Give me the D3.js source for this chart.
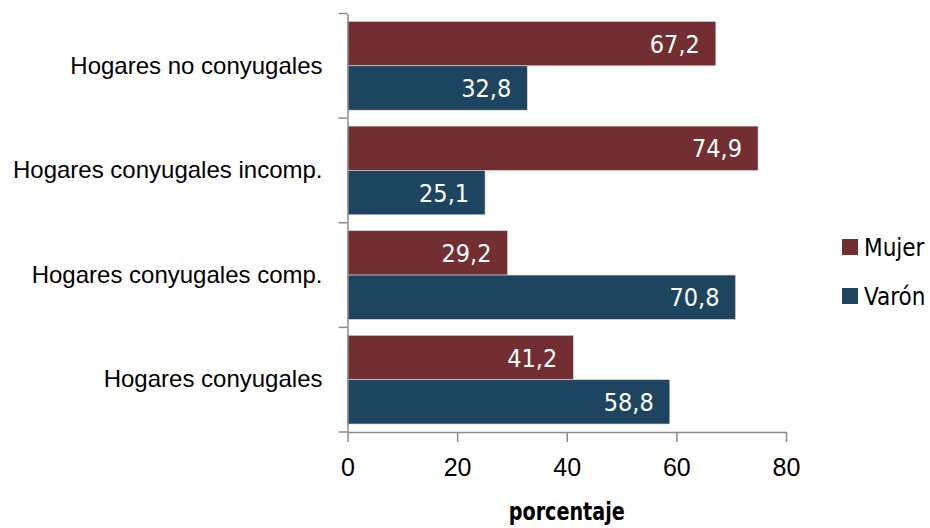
<!DOCTYPE html>
<html>
  <head>
    <meta charset="UTF-8" />
    <title>Hogares por sexo del jefe</title>
    <style>
      body { margin: 0; background: #fff; }
      svg { display: block; font-family: 'DejaVu Sans Condensed', 'DejaVu Sans', sans-serif; }
    </style>
  </head>
  <body>
    <svg width="930" height="528"></svg>
    <script src="https://cdn.jsdelivr.net/npm/d3@7/dist/d3.min.js"></script>
    <script>
      const categories = [
        'Hogares no conyugales',
        'Hogares conyugales incomp.',
        'Hogares conyugales comp.',
        'Hogares conyugales',
      ];
      const series = ['Mujer', 'Varón'];
      const mujer = [67.2, 74.9, 29.2, 41.2];
      const varon = [32.8, 25.1, 70.8, 58.8];
      const xTicks = [0, 20, 40, 60, 80];
      const xLabel = 'porcentaje';

      const colors = { Mujer: '#722e30', Varón: '#1e4560' };

      const svg = d3.select('svg');
      const margin = { top: 13.5, left: 347.5, right: 144, bottom: 96 };
      const width = +svg.attr('width');
      const height = +svg.attr('height');
      const innerHeight = height - margin.top - margin.bottom;

      const xScale = d3.scaleLinear().domain([0, 80]).range([0, 438.5]);
      const yScale = d3.scaleBand().domain(categories).range([0, innerHeight]);
      const subScale = d3
        .scaleBand()
        .domain(series)
        .range([0, yScale.bandwidth()])
        .paddingOuter(0.18)
        .paddingInner(0);

      const g = svg
        .append('g')
        .attr('transform', `translate(${margin.left},${margin.top})`);

      const rows = categories.map((c, i) => ({
        cat: c,
        vals: [
          { key: 'Mujer', v: mujer[i] },
          { key: 'Varón', v: varon[i] },
        ],
      }));

      const rowG = g
        .selectAll('.row')
        .data(rows)
        .enter()
        .append('g')
        .attr('transform', (d) => `translate(0,${yScale(d.cat)})`);

      rowG
        .selectAll('rect')
        .data((d) => d.vals)
        .enter()
        .append('rect')
        .attr('x', 0)
        .attr('y', (d) => subScale(d.key))
        .attr('width', (d) => xScale(d.v))
        .attr('height', subScale.bandwidth())
        .attr('fill', (d) => colors[d.key])
        .attr('stroke', '#d9d9d9')
        .attr('stroke-width', 0.6);

      rowG
        .selectAll('.val')
        .data((d) => d.vals)
        .enter()
        .append('text')
        .attr('class', 'val')
        .attr('x', (d) => xScale(d.v) - 16)
        .attr('y', (d) => subScale(d.key) + subScale.bandwidth() / 2)
        .attr('dy', '0.36em')
        .attr('text-anchor', 'end')
        .attr('fill', '#fff')
        .style('font-size', '25px')
        .text((d) => d.v.toFixed(1).replace('.', ','));

      // y axis: labels at band centres, ticks at band boundaries
      const yAxisG = g
        .append('g')
        .call(d3.axisLeft(yScale).tickSize(0).tickPadding(25));
      yAxisG.select('.domain').attr('stroke', '#8c8c8c').attr('stroke-width', 1.5);
      yAxisG
        .selectAll('text')
        .style('font-size', '24px')
        .attr('fill', '#000');
      const bounds = categories.map((c) => yScale(c)).concat([innerHeight]);
      yAxisG
        .selectAll('.bound')
        .data(bounds)
        .enter()
        .append('line')
        .attr('x1', -9)
        .attr('x2', 0)
        .attr('y1', (d) => d)
        .attr('y2', (d) => d)
        .attr('stroke', '#8c8c8c')
        .attr('stroke-width', 1.5);

      const xAxisG = g
        .append('g')
        .attr('transform', `translate(0,${innerHeight})`)
        .call(
          d3.axisBottom(xScale).tickValues(xTicks).tickSize(10).tickPadding(16).tickSizeOuter(0)
        );
      xAxisG.selectAll('.domain, line').attr('stroke', '#8c8c8c').attr('stroke-width', 1.5);
      xAxisG
        .selectAll('text')
        .style('font-size', '25px')
        .attr('fill', '#000');

      g.append('text')
        .attr('x', xScale(40))
        .attr('y', innerHeight + 88)
        .attr('text-anchor', 'middle')
        .attr('textLength', 116)
        .attr('lengthAdjust', 'spacingAndGlyphs')
        .style('font-size', '24px')
        .style('font-weight', 'bold')
        .text(xLabel);

      const legend = svg.append('g').attr('transform', 'translate(842,239)');
      const legendItem = legend
        .selectAll('g')
        .data(series)
        .enter()
        .append('g')
        .attr('transform', (d, i) => `translate(0,${i * 49})`);
      legendItem
        .append('rect')
        .attr('width', 16)
        .attr('height', 16)
        .attr('fill', (d) => colors[d]);
      legendItem
        .append('text')
        .attr('x', 22)
        .attr('y', 8)
        .attr('dy', '0.36em')
        .style('font-size', '24px')
        .text((d) => d);
    </script>
  </body>
</html>
